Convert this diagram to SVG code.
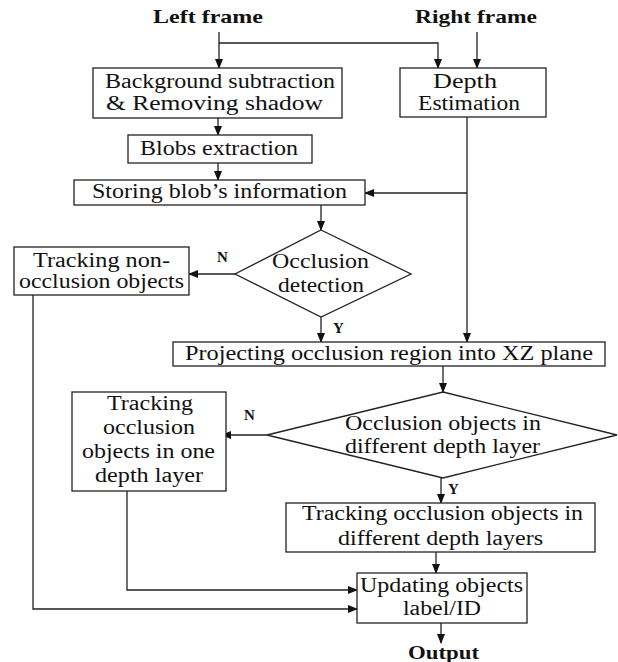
<svg xmlns="http://www.w3.org/2000/svg" width="618" height="662" viewBox="0 0 618 662" font-family="'Liberation Serif', 'DejaVu Serif', serif">
<defs>
<marker id="ah" markerWidth="10" markerHeight="8" refX="9" refY="4" orient="auto" markerUnits="userSpaceOnUse">
<path d="M0,0 L10,4 L0,8 Z" fill="#111"/>
</marker>
<style>
.box{fill:#fff;stroke:#222;stroke-width:1.3}
.t{font-family:'Liberation Serif','DejaVu Serif',serif;font-size:20px;fill:#111}
.b{font-family:'Liberation Serif','DejaVu Serif',serif;font-size:19px;font-weight:bold;fill:#111}
.l{font-family:'Liberation Serif','DejaVu Serif',serif;font-size:15px;font-weight:bold;fill:#111}
.c{fill:none;stroke:#222;stroke-width:1.3}
.a{fill:none;stroke:#222;stroke-width:1.3;marker-end:url(#ah)}
</style>
</defs>
<rect width="618" height="662" fill="#fff"/>
<g id="connectors">
<path class="a" d="M219,32 V68"/>
<path class="a" d="M219,43 H438 V68"/>
<path class="a" d="M477,32 V68"/>
<path class="a" d="M218,118 V135"/>
<path class="a" d="M218,163 V180"/>
<path class="a" d="M467,117 V342"/>
<path class="a" d="M467,193 H365"/>
<path class="a" d="M321,205 V230"/>
<path class="a" d="M235,274 H189"/>
<path class="a" d="M321,317 V342"/>
<path class="a" d="M443,366 V392"/>
<path class="a" d="M267,435 H222"/>
<path class="a" d="M441,478 V503"/>
<path class="a" d="M436,552 V573"/>
<path class="a" d="M127,491 V590 H357"/>
<path class="a" d="M33,295 V609 H357"/>
<path class="a" d="M441,623 V643"/>
</g>
<g id="labels">
<text class="l" x="217" y="262">N</text>
<text class="l" x="333" y="333">Y</text>
<text class="l" x="244" y="420">N</text>
<text class="l" x="448" y="494">Y</text>
</g>
<g id="left-frame"><text class="b" x="153" y="23" textLength="110" lengthAdjust="spacingAndGlyphs">Left frame</text></g>
<g id="right-frame"><text class="b" x="415" y="23" textLength="122" lengthAdjust="spacingAndGlyphs">Right frame</text></g>
<g id="bg-sub">
<rect class="box" x="93" y="68" width="249" height="50"/>
<text class="t" x="105" y="88" textLength="230" lengthAdjust="spacingAndGlyphs">Background subtraction</text>
<text class="t" x="106" y="110" textLength="217" lengthAdjust="spacingAndGlyphs">&amp; Removing shadow</text>
</g>
<g id="depth">
<rect class="box" x="400" y="68" width="146" height="49"/>
<text class="t" x="433" y="88" textLength="64" lengthAdjust="spacingAndGlyphs">Depth</text>
<text class="t" x="418" y="110" textLength="102" lengthAdjust="spacingAndGlyphs">Estimation</text>
</g>
<g id="blobs">
<rect class="box" x="128" y="135" width="184" height="28"/>
<text class="t" x="140" y="155" textLength="158" lengthAdjust="spacingAndGlyphs">Blobs extraction</text>
</g>
<g id="storing">
<rect class="box" x="74" y="180" width="291" height="25"/>
<text class="t" x="92" y="198" textLength="255" lengthAdjust="spacingAndGlyphs">Storing blob’s information</text>
</g>
<g id="occ-detect">
<polygon class="box" points="321,230 411,274 321,317 235,274"/>
<text class="t" x="272" y="268" textLength="97" lengthAdjust="spacingAndGlyphs">Occlusion</text>
<text class="t" x="278" y="292" textLength="86" lengthAdjust="spacingAndGlyphs">detection</text>
</g>
<g id="track-non">
<rect class="box" x="14" y="247" width="175" height="48"/>
<text class="t" x="33" y="267" textLength="137" lengthAdjust="spacingAndGlyphs">Tracking non-</text>
<text class="t" x="19" y="288" textLength="165" lengthAdjust="spacingAndGlyphs">occlusion objects</text>
</g>
<g id="projecting">
<rect class="box" x="173" y="342" width="432" height="24"/>
<text class="t" x="185" y="360" textLength="408" lengthAdjust="spacingAndGlyphs">Projecting occlusion region into XZ  plane</text>
</g>
<g id="diff-layer">
<polygon class="box" points="443,392 617,435 443,478 267,435"/>
<text class="t" x="345" y="430" textLength="196" lengthAdjust="spacingAndGlyphs">Occlusion objects in</text>
<text class="t" x="345" y="453" textLength="195" lengthAdjust="spacingAndGlyphs">different depth layer</text>
</g>
<g id="track-one">
<rect class="box" x="72" y="392" width="154" height="99"/>
<text class="t" x="107" y="410" textLength="86" lengthAdjust="spacingAndGlyphs">Tracking</text>
<text class="t" x="103" y="434" textLength="92" lengthAdjust="spacingAndGlyphs">occlusion</text>
<text class="t" x="82" y="458" textLength="133" lengthAdjust="spacingAndGlyphs">objects in one</text>
<text class="t" x="95" y="482" textLength="108" lengthAdjust="spacingAndGlyphs">depth layer</text>
</g>
<g id="track-diff">
<rect class="box" x="286" y="503" width="309" height="49"/>
<text class="t" x="302" y="520" textLength="281" lengthAdjust="spacingAndGlyphs">Tracking occlusion objects in</text>
<text class="t" x="338" y="545" textLength="205" lengthAdjust="spacingAndGlyphs">different depth layers</text>
</g>
<g id="updating">
<rect class="box" x="357" y="573" width="170" height="50"/>
<text class="t" x="360" y="592" textLength="163" lengthAdjust="spacingAndGlyphs">Updating objects</text>
<text class="t" x="403" y="615" textLength="78" lengthAdjust="spacingAndGlyphs">label/ID</text>
</g>
<g id="output"><text class="b" x="408" y="659" textLength="71" lengthAdjust="spacingAndGlyphs">Output</text></g>
</svg>
